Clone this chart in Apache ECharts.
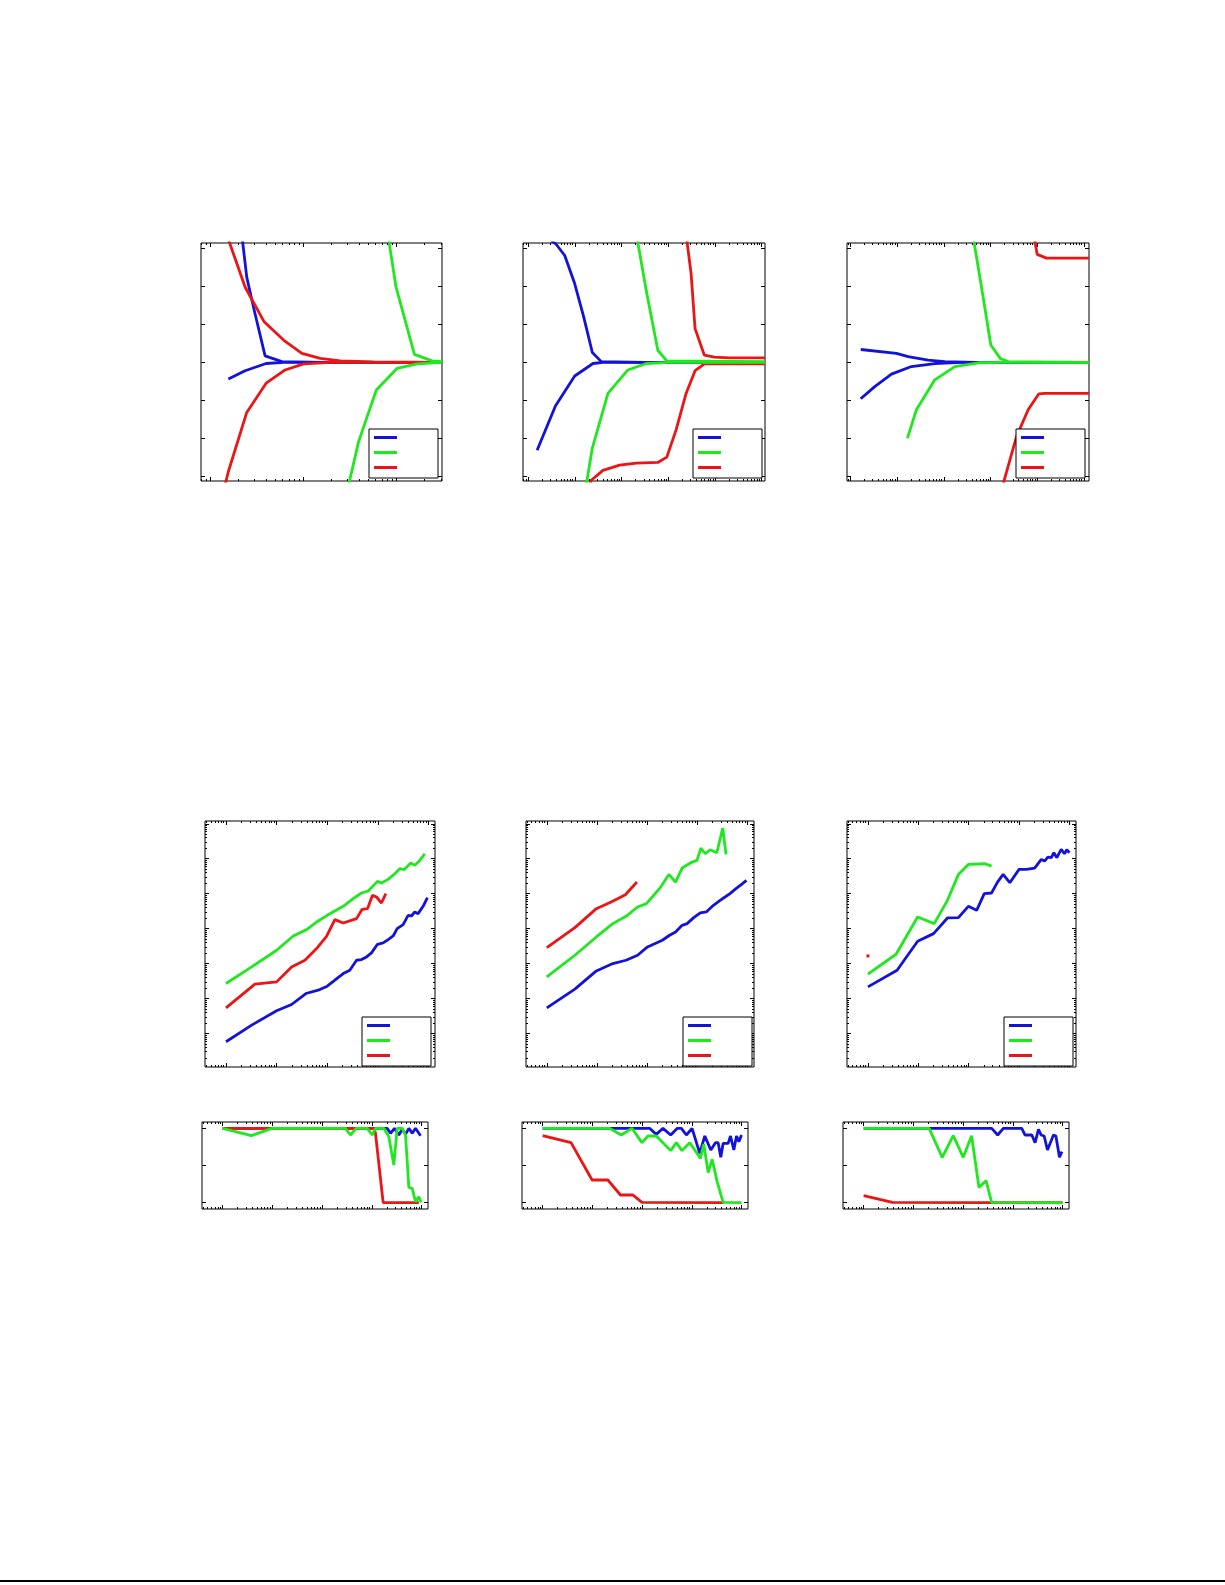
<!DOCTYPE html>
<html><head><meta charset="utf-8">
<script src="https://cdn.jsdelivr.net/npm/echarts@6/dist/echarts.min.js"></script>
<style>html,body{margin:0;padding:0;background:#fff;}#chart{width:1225px;height:1585px;}</style>
</head><body><div id="chart"></div>
<script>
// ---- data: [log10(x), y] pairs (x axes are logarithmic, drawn in log10 units) ----
// Top row (y linear)
const p1_blue_upper = [[0.348,3.22],[0.394,2.25],[0.466,1.46],[0.591,0.17],[0.771,0.02],[1.219,0.0],[2.49,0.0]];
const p1_blue_lower = [[0.197,-0.44],[0.376,-0.22],[0.602,-0.03],[0.789,0.0],[2.49,0.0]];
const p1_red_upper = [[0.175,3.4],[0.376,1.99],[0.581,1.07],[0.789,0.59],[0.986,0.24],[1.183,0.105],[1.398,0.04],[1.756,0.01],[2.49,0.0]];
const p1_red_lower = [[0.158,-3.27],[0.197,-2.88],[0.394,-1.32],[0.602,-0.55],[0.806,-0.2],[1.004,-0.04],[1.29,0.0],[2.49,0.0]];
const p1_green_upper = [[1.914,3.3],[1.996,1.99],[2.194,0.21],[2.384,0.04],[2.49,0.02]];
const p1_green_lower = [[1.484,-3.27],[1.595,-2.09],[1.785,-0.73],[2.007,-0.16],[2.222,-0.04],[2.49,0.0]];

const p2_blue_upper = [[0.50,3.2],[0.591,3.13],[0.783,2.82],[0.996,2.08],[1.189,1.2],[1.374,0.26],[1.566,0.02],[2.5,0.0],[5.07,0.0]];
const p2_blue_lower = [[0.192,-2.32],[0.584,-1.15],[0.996,-0.36],[1.388,-0.03],[1.601,0.0],[5.07,0.0]];
const p2_red_upper = [[3.388,3.31],[3.488,2.34],[3.573,0.89],[3.772,0.19],[3.986,0.14],[4.306,0.12],[5.07,0.12]];
const p2_red_lower = [[1.30,-3.3],[1.352,-3.11],[1.601,-2.85],[1.957,-2.71],[2.313,-2.66],[2.776,-2.64],[2.968,-2.5],[3.167,-1.78],[3.381,-0.82],[3.573,-0.22],[3.772,-0.04],[5.07,-0.04]];
const p2_green_upper = [[2.327,3.31],[2.527,1.9],[2.776,0.32],[2.968,0.04],[5.07,0.02]];
const p2_green_lower = [[1.234,-3.3],[1.374,-2.26],[1.708,-0.82],[2.135,-0.2],[2.527,-0.03],[3.025,0.0],[5.07,0.0]];

const p3_blue_upper = [[0.221,0.34],[0.986,0.24],[1.236,0.15],[1.664,0.06],[2.021,0.02],[2.664,0.0],[5.11,0.0]];
const p3_blue_lower = [[0.221,-0.96],[0.521,-0.64],[0.879,-0.31],[1.307,-0.11],[1.807,-0.03],[2.379,0.0],[5.11,0.0]];
const p3_red_upper = [[3.936,3.31],[4.0,2.85],[4.2,2.75],[5.11,2.75]];
const p3_red_lower = [[3.257,-3.27],[3.557,-1.96],[3.807,-1.25],[4.036,-0.83],[4.164,-0.82],[5.11,-0.82]];
const p3_green_upper = [[2.629,3.31],[2.807,1.99],[3.007,0.46],[3.214,0.1],[3.379,0.02],[5.11,0.0]];
const p3_green_lower = [[1.221,-2.0],[1.414,-1.25],[1.807,-0.46],[2.236,-0.11],[2.736,-0.01],[3.236,0.0],[5.11,0.0]];

// Middle row: [log10(x), log10(y)]
const p4_blue = [[0,-0.238],[0.507,0.238],[1.0,0.648],[1.296,0.829],[1.579,1.143],[1.822,1.238],[2.0,1.352],[2.151,1.524],[2.316,1.714],[2.447,1.81],[2.579,2.095],[2.678,2.114],[2.776,2.19],[2.875,2.305],[2.993,2.552],[3.105,2.59],[3.204,2.686],[3.303,2.79],[3.382,3.0],[3.5,3.114],[3.599,3.381],[3.664,3.362],[3.73,3.476],[3.796,3.429],[3.895,3.638],[3.98,3.886]];
const p4_green = [[0,1.429],[0.507,1.905],[1.0,2.381],[1.329,2.79],[1.592,2.971],[1.822,3.219],[2.0,3.381],[2.316,3.638],[2.513,3.857],[2.678,4.019],[2.809,4.076],[2.993,4.352],[3.072,4.305],[3.204,4.41],[3.336,4.571],[3.434,4.714],[3.52,4.686],[3.651,4.876],[3.73,4.81],[3.829,4.952],[3.928,5.143]];
const p4_red = [[0,0.733],[0.572,1.41],[1.0,1.476],[1.296,1.905],[1.559,2.095],[1.789,2.429],[1.987,2.781],[2.151,3.257],[2.316,3.162],[2.579,3.286],[2.691,3.552],[2.796,3.571],[2.895,3.952],[2.974,3.905],[3.072,3.733],[3.158,4.0]];

const p5_blue = [[0,0.733],[0.559,1.267],[0.987,1.79],[1.316,2.0],[1.579,2.095],[1.809,2.238],[2.007,2.476],[2.303,2.667],[2.447,2.81],[2.566,2.905],[2.697,3.095],[2.796,3.143],[2.928,3.314],[3.059,3.448],[3.178,3.476],[3.322,3.667],[3.454,3.81],[3.553,3.905],[3.651,4.0],[3.77,4.143],[3.882,4.267],[3.98,4.381]];
const p5_green = [[0,1.619],[0.559,2.238],[0.987,2.762],[1.316,3.143],[1.579,3.352],[1.809,3.619],[1.987,3.714],[2.27,4.19],[2.434,4.552],[2.566,4.333],[2.697,4.733],[2.895,4.905],[2.993,4.952],[3.072,5.305],[3.158,5.143],[3.257,5.257],[3.388,5.171],[3.507,5.876],[3.572,5.124]];
const p5_red = [[0,2.457],[0.559,3.029],[0.987,3.571],[1.283,3.762],[1.566,3.971],[1.796,4.333]];

const p6_blue = [[0,1.333],[0.579,1.81],[0.987,2.638],[1.303,2.857],[1.579,3.305],[1.796,3.314],[1.993,3.638],[2.158,3.524],[2.309,4.0],[2.454,4.019],[2.572,4.333],[2.684,4.552],[2.816,4.314],[3.0,4.695],[3.145,4.695],[3.309,4.733],[3.441,4.981],[3.507,4.933],[3.572,5.048],[3.638,5.029],[3.691,5.171],[3.75,5.029],[3.836,5.267],[3.901,5.143],[3.947,5.257],[4.0,5.171]];
const p6_green = [[0,1.695],[0.559,2.267],[0.987,3.333],[1.316,3.143],[1.579,3.81],[1.796,4.552],[1.993,4.838],[2.322,4.857],[2.454,4.79]];
const p6_red = [[0,2.219]];

// Bottom row: [log10(x), fraction]
const p7_blue = [[0,1],[0.507,1],[1.0,1],[2.0,1],[3.0,1],[3.309,1],[3.376,0.933],[3.456,1],[3.544,0.91],[3.611,0.987],[3.678,0.919],[3.745,1],[3.812,0.933],[3.879,1],[3.98,0.901]];
const p7_red = [[0,1],[1.0,1],[2.0,1],[3.04,1],[3.074,0.933],[3.228,0.0],[3.946,0.0]];
const p7_green = [[0,1],[0.577,0.901],[0.993,1],[2.47,1],[2.57,0.91],[2.685,1],[2.906,1],[3.007,0.91],[3.074,1],[3.242,1],[3.342,0.888],[3.443,0.507],[3.51,1],[3.611,1],[3.678,0.91],[3.745,0.206],[3.812,0.193],[3.879,0.013],[3.946,0.081],[3.993,0.004]];

const p8_blue = [[0,1],[2.151,1],[2.286,0.919],[2.42,1],[2.575,0.91],[2.709,1],[2.79,1],[2.891,0.91],[3.005,1],[3.16,0.664],[3.261,0.897],[3.382,0.709],[3.476,0.807],[3.53,0.807],[3.583,0.61],[3.63,0.798],[3.731,0.798],[3.778,0.897],[3.845,0.709],[3.899,0.897],[3.946,0.821],[4.0,0.91]];
const p8_red = [[0,0.901],[0.571,0.807],[0.995,0.305],[1.311,0.305],[1.566,0.103],[1.815,0.103],[1.997,0.004],[3.63,0.0]];
const p8_green = [[0,1],[1.345,1],[1.58,0.91],[1.795,1],[1.997,0.807],[2.118,0.897],[2.286,0.897],[2.575,0.7],[2.689,0.807],[2.803,0.7],[2.958,0.807],[3.059,0.709],[3.173,0.596],[3.24,0.789],[3.328,0.404],[3.409,0.583],[3.509,0.283],[3.63,0.004],[4.0,0.0]];

const p9_blue = [[0,1],[2.575,1],[2.696,0.91],[2.81,1],[3.18,1],[3.247,0.91],[3.382,0.91],[3.449,0.807],[3.516,0.987],[3.57,0.91],[3.63,0.897],[3.697,0.709],[3.818,0.91],[3.866,0.897],[3.939,0.61],[3.987,0.686]];
const p9_red = [[0,0.094],[0.578,0.004],[2.575,0.0],[4.0,0.0]];
const p9_green = [[0,1],[1.318,1],[1.58,0.61],[1.802,0.901],[2.003,0.61],[2.171,0.901],[2.319,0.206],[2.461,0.296],[2.575,0.004],[4.0,0.0]];

// tick values
const topYTicks = [-3,-2,-1,0,1,2,3];
const fracYTicks = [0,0.5,1];

// ---- layout / style ----
const COL = {blue:'#1212dc', green:'#1fe81f', red:'#ec1414'};
const panels = [
  {g:{left:201,top:243,width:241,height:238}, x:[-0.097,2.49], y:[-3.13,3.15], yLog:false, yTicks:topYTicks, leg:{left:369,top:429},
   curves:[['blue',p1_blue_upper],['blue',p1_blue_lower],['red',p1_red_upper],['red',p1_red_lower],['green',p1_green_upper],['green',p1_green_lower]]},
  {g:{left:523,top:243,width:242,height:238}, x:[-0.11,5.07], y:[-3.13,3.15], yLog:false, yTicks:topYTicks, leg:{left:693,top:429},
   curves:[['blue',p2_blue_upper],['blue',p2_blue_lower],['red',p2_red_upper],['red',p2_red_lower],['green',p2_green_upper],['green',p2_green_lower]]},
  {g:{left:847,top:243,width:242,height:238}, x:[-0.073,5.11], y:[-3.13,3.15], yLog:false, yTicks:topYTicks, leg:{left:1016,top:429},
   curves:[['blue',p3_blue_upper],['blue',p3_blue_lower],['red',p3_red_upper],['red',p3_red_lower],['green',p3_green_upper],['green',p3_green_lower]]},
  {g:{left:205,top:821,width:230,height:246}, x:[-0.415,4.13], y:[-0.96,6.08], yLog:true, leg:{left:362,top:1017},
   curves:[['blue',p4_blue],['red',p4_red],['green',p4_green]]},
  {g:{left:526,top:821,width:228,height:246}, x:[-0.415,4.13], y:[-0.96,6.08], yLog:true, leg:{left:683,top:1017},
   curves:[['blue',p5_blue],['red',p5_red],['green',p5_green]]},
  {g:{left:847,top:821,width:229,height:246}, x:[-0.415,4.13], y:[-0.96,6.08], yLog:true, leg:{left:1004,top:1017},
   curves:[['blue',p6_blue],['red',p6_red],['green',p6_green]]},
  {g:{left:202,top:1122,width:226,height:87}, x:[-0.415,4.13], y:[-0.085,1.085], yLog:false, yTicks:fracYTicks,
   curves:[['blue',p7_blue],['red',p7_red],['green',p7_green]]},
  {g:{left:522,top:1122,width:226,height:87}, x:[-0.415,4.13], y:[-0.085,1.085], yLog:false, yTicks:fracYTicks,
   curves:[['blue',p8_blue],['red',p8_red],['green',p8_green]]},
  {g:{left:843,top:1122,width:226,height:87}, x:[-0.415,4.13], y:[-0.085,1.085], yLog:false, yTicks:fracYTicks,
   curves:[['blue',p9_blue],['red',p9_red],['green',p9_green]]}
];

function logTicks(lo, hi){
  const major=[], minor=[];
  for(let d=Math.floor(lo)-1; d<=Math.ceil(hi); d++){
    if(d>=lo && d<=hi) major.push(d);
    for(let k=2;k<=9;k++){ const v=d+Math.log10(k); if(v>=lo && v<=hi) minor.push(v); }
  }
  return {major, minor};
}
function axis(gi, pos, range, vals, len){
  return {type:'value', gridIndex:gi, position:pos, min:range[0], max:range[1],
    axisLine:{show:false, onZero:false}, splitLine:{show:false}, axisLabel:{show:false},
    axisTick:{show:true, inside:true, length:len, lineStyle:{color:'#000',width:1}, customValues:vals}};
}

const grid=[], xAxis=[], yAxis=[], series=[], legend=[];
panels.forEach((p,i)=>{
  grid.push(Object.assign({show:true, borderColor:'#000', borderWidth:1, backgroundColor:'transparent'}, p.g));
  const xt = logTicks(p.x[0], p.x[1]);
  const xi = xAxis.length;
  ['bottom','top'].forEach(pos=>{ xAxis.push(axis(i,pos,p.x,xt.major,4)); xAxis.push(axis(i,pos,p.x,xt.minor,2)); });
  const yi = yAxis.length;
  const yt = p.yLog ? logTicks(p.y[0], p.y[1]) : {major:p.yTicks, minor:[]};
  ['left','right'].forEach(pos=>{ yAxis.push(axis(i,pos,p.y,yt.major,4)); if(yt.minor.length) yAxis.push(axis(i,pos,p.y,yt.minor,2)); });
  p.curves.forEach(([c,data])=>{
    series.push({type:'line', name:'p'+(i+1)+' '+c, xAxisIndex:xi, yAxisIndex:yi, data:data,
      color:COL[c], lineStyle:{width:2.8,color:COL[c]}, itemStyle:{color:COL[c]},
      showSymbol:data.length===1, symbol:'rect', symbolSize:3, clip:true, silent:true, animation:false});
  });
  if(p.leg){
    legend.push({orient:'vertical', left:p.leg.left, top:p.leg.top, padding:[7,41,9,5], itemGap:12,
      itemWidth:23, itemHeight:3, icon:'rect', borderColor:'#000', borderWidth:1, borderRadius:0,
      backgroundColor:'#fff', formatter:()=>'', selectedMode:false, textStyle:{fontSize:1},
      data:['blue','green','red'].map(c=>'p'+(i+1)+' '+c)});
  }
});

const chart = echarts.init(document.getElementById('chart'), null, {renderer:'canvas'});
chart.setOption({
  animation:false, backgroundColor:'#fff',
  grid, xAxis, yAxis, series, legend,
  graphic:[{type:'rect', left:0, top:1580, shape:{width:1225,height:2}, style:{fill:'#000'}}]
});
</script></body></html>
